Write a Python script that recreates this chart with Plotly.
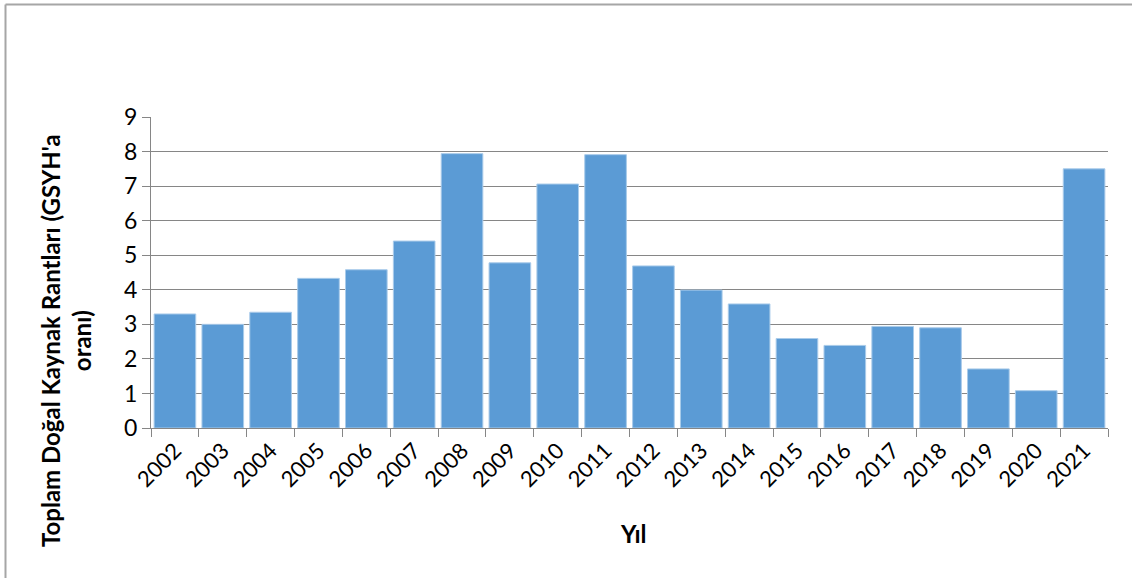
import plotly.graph_objects as go

# Total natural resource rents as a share of GDP, by year
years = ["2002", "2003", "2004", "2005", "2006", "2007", "2008", "2009", "2010", "2011",
         "2012", "2013", "2014", "2015", "2016", "2017", "2018", "2019", "2020", "2021"]
rents = [3.30, 3.00, 3.35, 4.33, 4.58, 5.41, 7.94, 4.78, 7.06, 7.91,
         4.69, 3.99, 3.59, 2.59, 2.39, 2.94, 2.90, 1.71, 1.08, 7.50]
y_ticks = [0, 1, 2, 3, 4, 5, 6, 7, 8, 9]

W, H = 1132, 578
L, R, T, B = 151, 24, 117, 150
FONT = "Lato"
GRID = "#868686"

fig = go.Figure(
    go.Bar(
        x=years,
        y=rents,
        marker=dict(color="#5B9BD5", line=dict(color="#A9CBEA", width=1)),
        width=0.87,
        hoverinfo="x+y",
    )
)

pw = W - L - R
ph = H - T - B


def px_x(p):
    return (p - L) / pw


def px_y(p):
    return (H - B - p) / ph


fig.update_layout(
    width=W,
    height=H,
    margin=dict(l=L, r=R, t=T, b=B),
    paper_bgcolor="white",
    plot_bgcolor="white",
    showlegend=False,
    font=dict(family=FONT, color="black"),
    xaxis=dict(
        type="category",
        tickson="boundaries",
        ticks="outside",
        ticklen=8,
        tickwidth=1.3,
        tickcolor=GRID,
        showline=True,
        linecolor=GRID,
        linewidth=1.3,
        showgrid=False,
        tickangle=-45,
        tickfont=dict(size=22, family=FONT),
    ),
    yaxis=dict(
        range=[0, 9],
        tickvals=y_ticks,
        ticks="outside",
        ticklen=8,
        tickwidth=1.3,
        tickcolor=GRID,
        showline=True,
        linecolor=GRID,
        linewidth=1.3,
        showgrid=True,
        gridcolor=GRID,
        gridwidth=1.3,
        zeroline=False,
        tickfont=dict(size=23, family=FONT),
    ),
    annotations=[
        dict(
            text="<b>Toplam Doğal Kaynak Rantları (GSYH'a<br>oranı)</b>",
            xref="paper", yref="paper",
            x=px_x(66), y=px_y(341),
            xanchor="center", yanchor="middle",
            textangle=-90, showarrow=False,
            font=dict(size=24, family=FONT),
        ),
        dict(
            text="<b>Yıl</b>",
            xref="paper", yref="paper",
            x=px_x(633), y=px_y(533),
            xanchor="center", yanchor="middle",
            showarrow=False,
            font=dict(size=24, family=FONT),
        ),
    ],
    shapes=[
        # chart frame (top and left edges)
        dict(type="line", xref="paper", yref="paper",
             x0=px_x(5.5), x1=px_x(W + 5), y0=px_y(4.5), y1=px_y(4.5),
             line=dict(color="#a6a6a6", width=2)),
        dict(type="line", xref="paper", yref="paper",
             x0=px_x(5.5), x1=px_x(5.5), y0=px_y(4.5), y1=px_y(H + 5),
             line=dict(color="#a6a6a6", width=2)),
    ],
)

fig.write_html("out.html")
